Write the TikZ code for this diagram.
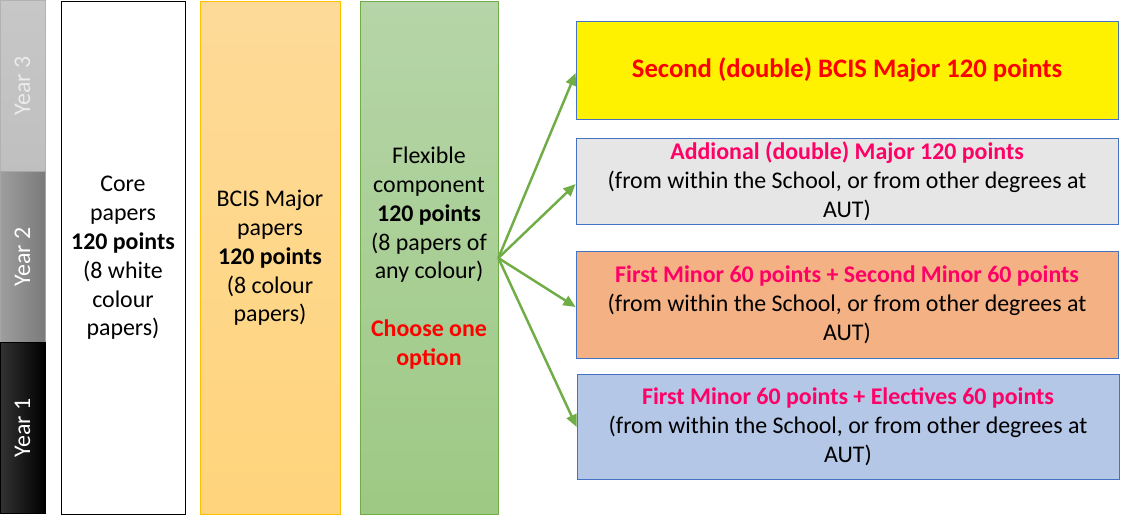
\documentclass[tikz,border=0pt]{standalone}
\usepackage{fontspec}
\setmainfont{Carlito}
\usetikzlibrary{arrows.meta,positioning}

\definecolor{optblue}{HTML}{4472C4}
\definecolor{flexgreen}{HTML}{70AD47}
\definecolor{majorgold}{HTML}{FFC000}
\definecolor{hotpink}{HTML}{FF0066}
\definecolor{majortop}{HTML}{FDDA98}
\definecolor{majorbottom}{HTML}{FFD47C}
\definecolor{flextop}{HTML}{B6D5A8}
\definecolor{flexbottom}{HTML}{9DC984}
\definecolor{minorpeach}{HTML}{F4B183}
\definecolor{electblue}{HTML}{B4C7E7}
\definecolor{addgray}{HTML}{E7E6E6}

\tikzset{
  yearbar/.style={draw=#1,minimum width=45*0.02cm,minimum height=171*0.02cm,inner sep=0pt},
  column/.style={minimum width=#1*0.02cm,minimum height=513*0.02cm,align=center,inner sep=0pt},
  optbox/.style={draw=optblue,fill=#1,minimum width=542*0.02cm,align=center,inner sep=0pt},
  choice/.style={-{Triangle[length=7pt,width=6pt]},flexgreen,line width=1.4pt}
}

\begin{document}
\begin{tikzpicture}[x=0.02cm,y=-0.02cm,font=\fontsize{13.6}{16.4}\selectfont]
\useasboundingbox (0,0) rectangle (1121,515);

% Years
\node[yearbar=gray!60,top color=black!22,bottom color=black!25] (year3) at (22.5,86) {};
\node[yearbar=gray!70,left color=black!38,right color=black!52] (year2) at (22.5,257) {};
\node[yearbar=black,left color=black!80,right color=black] (year1) at (22.5,428) {};
\node[rotate=90,text=white!92!black] at (year3) {Year 3};
\node[rotate=90,text=white] at (year2) {Year 2};
\node[rotate=90,text=white] at (year1) {Year 1};

% Columns
\node[column=124,draw=black,fill=white] (core) at (123,258)
  {Core\\papers\\\textbf{120 points}\\(8 white\\colour\\papers)};
\node[column=140,draw=majorgold,top color=majortop,bottom color=majorbottom] (major) at (270,258)
  {BCIS Major\\papers\\\textbf{120 points}\\(8 colour\\papers)};
\node[column=138,draw=flexgreen,top color=flextop,bottom color=flexbottom] (flex) at (429,258)
  {Flexible\\component\\\textbf{120 points}\\(8 papers of\\any colour)\\[16.4pt]
   \textcolor{red}{\textbf{Choose one}}\\\textcolor{red}{\textbf{option}}};

% Options
\node[optbox=yellow,minimum height=98*0.02cm,font=\fontsize{15.2}{18}\selectfont\bfseries,text=red] (opt1) at (847,70)
  {Second (double) BCIS Major 120 points};
\node[optbox=addgray,minimum height=86*0.02cm] (opt2) at (847,181)
  {\textcolor{hotpink}{\textbf{Addional (double) Major 120 points}}\\(from within the School, or from other degrees at\\AUT)};
\node[optbox=minorpeach,minimum height=107*0.02cm] (opt3) at (847,305)
  {\textcolor{hotpink}{\textbf{First Minor 60 points + Second Minor 60 points}}\\(from within the School, or from other degrees at\\AUT)};
\node[optbox=electblue,minimum height=105*0.02cm] (opt4) at (848,427)
  {\textcolor{hotpink}{\textbf{First Minor 60 points + Electives 60 points}}\\(from within the School, or from other degrees at\\AUT)};

% Arrows
\coordinate (fork) at (flex.east);
\draw[choice] (fork) -- ([yshift=-3*0.02cm]opt1.west);
\draw[choice] (fork) -- ([yshift=-3*0.02cm]opt2.west);
\draw[choice] (fork) -- ([yshift=-2*0.02cm]opt3.west);
\draw[choice] (fork) -- (opt4.west);
\end{tikzpicture}
\end{document}
